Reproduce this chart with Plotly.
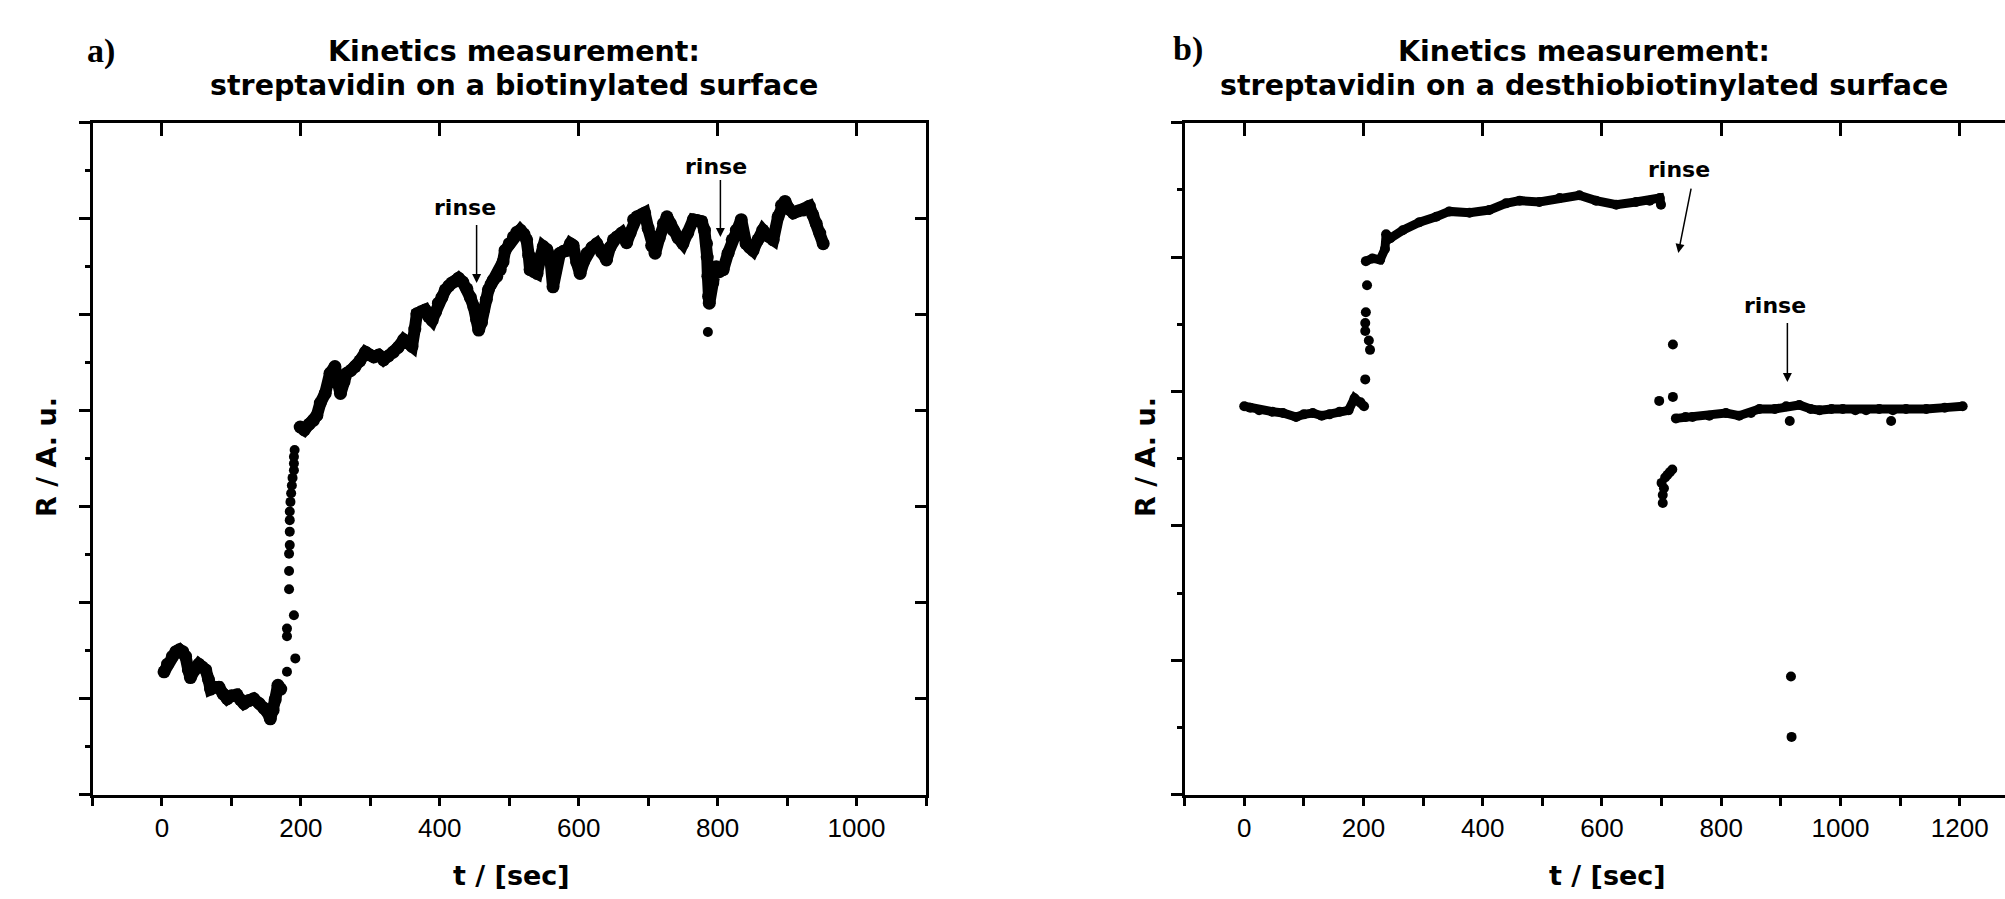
import plotly.graph_objects as go

# ---------------- data: panel a (biotinylated surface) ----------------
t_a_base = [3, 8, 15, 20, 25, 30, 34, 38, 41, 47, 53, 58, 63, 67, 70, 76, 82, 88, 94, 100,
            108, 113, 118, 125, 132, 140, 147, 152, 156, 160, 163, 167, 171]
r_a_base = [1.28, 1.36, 1.44, 1.49, 1.51, 1.49, 1.44, 1.30, 1.22, 1.30, 1.36, 1.33, 1.30, 1.20,
            1.10, 1.12, 1.12, 1.05, 1.00, 1.03, 1.04, 0.99, 0.95, 0.98, 1.00, 0.95, 0.90, 0.86,
            0.79, 0.88, 0.99, 1.14, 1.10]

t_a_rise = [180, 192, 180, 180, 190, 183, 183, 183, 184, 184, 184, 184, 185, 186, 187, 188,
            190, 190, 190, 191]
r_a_rise = [1.28, 1.42, 1.65, 1.73, 1.87, 2.14, 2.33, 2.51, 2.60, 2.74, 2.86, 2.95, 3.05, 3.14,
            3.22, 3.30, 3.38, 3.45, 3.52, 3.59]

t_a_plat = [199, 205, 212, 218, 223, 228, 235, 242, 249, 253, 257, 262, 266, 272, 278, 285, 293,
            299, 305, 312, 319, 326, 333, 340, 348, 354, 360, 364, 367, 373, 379, 384, 389, 394,
            398, 403, 408, 413, 417, 422, 427, 433, 439, 444, 449, 453, 456, 460, 463, 467, 470,
            474, 477, 482, 487, 491, 494, 500, 506, 511, 516, 521, 525, 528, 530, 535, 540, 545,
            549, 554, 559, 563, 566, 568, 573, 578, 583, 588, 592, 597, 602, 607, 612, 619, 626,
            633, 640, 645, 650, 655, 662, 669, 674, 679, 684, 690, 695, 700, 705, 710, 716, 722,
            727, 732, 736, 743, 750, 757, 765, 771, 777, 781, 784, 785, 786, 787, 788, 793, 798,
            803, 808, 815, 821, 827, 834, 841, 846, 851, 858, 865, 872, 880, 887, 892, 897, 903,
            909, 916, 923, 932, 937, 942, 947, 952]
r_a_plat = [3.83, 3.80, 3.86, 3.90, 3.95, 4.08, 4.18, 4.39, 4.46, 4.30, 4.18, 4.30, 4.39, 4.42,
            4.46, 4.52, 4.61, 4.58, 4.56, 4.58, 4.53, 4.57, 4.61, 4.66, 4.74, 4.72, 4.67, 4.85,
            5.01, 5.03, 5.05, 4.98, 4.94, 5.03, 5.12, 5.18, 5.26, 5.30, 5.33, 5.35, 5.38, 5.34,
            5.27, 5.18, 5.08, 4.95, 4.84, 4.92, 5.05, 5.16, 5.26, 5.32, 5.36, 5.40, 5.47, 5.55,
            5.67, 5.74, 5.81, 5.86, 5.88, 5.84, 5.78, 5.62, 5.47, 5.45, 5.43, 5.60, 5.71, 5.68,
            5.60, 5.29, 5.45, 5.60, 5.64, 5.66, 5.67, 5.74, 5.72, 5.55, 5.43, 5.55, 5.64, 5.70,
            5.74, 5.65, 5.57, 5.70, 5.78, 5.81, 5.85, 5.75, 5.85, 5.99, 6.02, 6.04, 6.06, 5.90,
            5.72, 5.64, 5.80, 5.95, 6.02, 5.95, 5.88, 5.80, 5.74, 5.85, 5.99, 5.98, 5.97, 5.88,
            5.74, 5.60, 5.40, 5.19, 5.12, 5.33, 5.50, 5.45, 5.47, 5.64, 5.78, 5.88, 5.99, 5.74,
            5.70, 5.67, 5.78, 5.88, 5.82, 5.78, 6.02, 6.14, 6.18, 6.10, 6.06, 6.08, 6.09, 6.13,
            6.04, 5.95, 5.85, 5.74]

t_a_out = [786]
r_a_out = [4.82]

# ---------------- data: panel b (desthiobiotinylated surface) ----------------
t_b_base = [0, 10, 25, 47, 65, 87, 100, 115, 130, 143, 160, 175, 185, 195, 201]
r_b_base = [2.89, 2.88, 2.86, 2.85, 2.84, 2.81, 2.83, 2.84, 2.82, 2.83, 2.85, 2.86, 2.95, 2.92, 2.89]

t_b_rise = [203, 211, 209, 203, 203, 204, 206]
r_b_rise = [3.09, 3.31, 3.38, 3.45, 3.51, 3.59, 3.79]

t_b_plat = [204, 215, 228, 236, 238, 245, 266, 294, 322, 344, 378, 411, 439, 462, 495, 529, 562,
            590, 624, 657, 680, 697, 699]
r_b_plat = [3.97, 3.99, 3.98, 4.06, 4.17, 4.14, 4.20, 4.26, 4.30, 4.34, 4.33, 4.35, 4.40, 4.42,
            4.41, 4.44, 4.46, 4.42, 4.39, 4.41, 4.42, 4.44, 4.39]

t_b_scatter = [696, 719, 719, 700, 704, 706, 710, 714, 718, 702, 702]
r_b_scatter = [2.93, 2.96, 3.35, 2.32, 2.28, 2.36, 2.38, 2.40, 2.42, 2.23, 2.17]

t_b_base2 = [724, 740, 752, 780, 808, 830, 850, 864, 890, 909, 931, 950, 965, 985, 1004, 1025,
             1043, 1065, 1088, 1110, 1144, 1175, 1205]
r_b_base2 = [2.80, 2.81, 2.81, 2.82, 2.84, 2.82, 2.84, 2.87, 2.87, 2.89, 2.90, 2.87, 2.86, 2.87,
             2.87, 2.86, 2.86, 2.87, 2.86, 2.87, 2.87, 2.88, 2.89]

t_b_out = [915, 1085, 917, 918]
r_b_out = [2.78, 2.78, 0.88, 0.43]

# tick labels
x_ticks_a = [0, 200, 400, 600, 800, 1000]
x_ticks_b = [0, 200, 400, 600, 800, 1000, 1200]

W, H = 2005, 899


def fx(px):
    return px / W


def fy(py):
    return 1 - py / H


TICK_FONT = dict(family="Liberation Sans, Arial", size=26, color="black")
TITLE_FONT = dict(family="DejaVu Sans", size=28.5, color="black")
AXT_FONT = dict(family="DejaVu Sans", size=27, color="black")
LABEL_FONT = dict(family="Liberation Serif, Times New Roman", size=34, color="black")
RINSE_FONT = dict(family="DejaVu Sans", size=22, color="black")

fig = go.Figure()

MS = 10


def dense(x, y, xa, ya, lw, ms):
    fig.add_trace(go.Scatter(x=x, y=y, xaxis=xa, yaxis=ya, mode="lines+markers",
                             line=dict(color="black", width=lw),
                             marker=dict(color="black", size=ms),
                             showlegend=False, hoverinfo="skip"))


def dots(x, y, xa, ya):
    fig.add_trace(go.Scatter(x=x, y=y, xaxis=xa, yaxis=ya, mode="markers",
                             marker=dict(color="black", size=MS),
                             showlegend=False, hoverinfo="skip"))


dense(t_a_base, r_a_base, "x", "y", 12, 13)
dots(t_a_rise, r_a_rise, "x", "y")
dense(t_a_plat, r_a_plat, "x", "y", 12, 13)
dots(t_a_out, r_a_out, "x", "y")

dense(t_b_base, r_b_base, "x2", "y2", 9, 10)
dots(t_b_rise, r_b_rise, "x2", "y2")
dense(t_b_plat, r_b_plat, "x2", "y2", 9, 10)
dots(t_b_scatter, r_b_scatter, "x2", "y2")
dense(t_b_base2, r_b_base2, "x2", "y2", 9, 10)
dots(t_b_out, r_b_out, "x2", "y2")

# invisible traces to register the mirror (top / right) axes
fig.add_trace(go.Scatter(x=t_a_base[:1], y=r_a_base[:1], xaxis="x3", yaxis="y3", mode="markers",
                         marker=dict(opacity=0), showlegend=False, hoverinfo="skip"))
fig.add_trace(go.Scatter(x=t_b_base[:1], y=r_b_base[:1], xaxis="x4", yaxis="y2", mode="markers",
                         marker=dict(opacity=0), showlegend=False, hoverinfo="skip"))

LINE = dict(showline=True, linewidth=3, linecolor="black", showgrid=False, zeroline=False)

xa_dom = [fx(92.5), fx(926)]
xb_dom = [fx(1184.6), 1.0]
y_dom = [fy(794.7), fy(122.7)]

fig.update_layout(
    width=W, height=H,
    margin=dict(l=0, r=0, t=0, b=0),
    paper_bgcolor="white", plot_bgcolor="white",
    xaxis=dict(**LINE, domain=xa_dom, range=[-100, 1100], anchor="y",
               tickmode="array", tickvals=x_ticks_a, ticktext=[str(v) for v in x_ticks_a],
               ticks="outside", ticklen=8, tickwidth=2.5, tickcolor="black", tickfont=TICK_FONT,
               minor=dict(tickmode="linear", tick0=-100, dtick=100, ticks="outside", ticklen=8,
                          tickwidth=2.5, tickcolor="black", showgrid=False)),
    xaxis3=dict(**LINE, overlaying="x", side="top", anchor="y3", range=[-100, 1100],
                tickmode="array", tickvals=x_ticks_a, ticks="inside", ticklen=13, tickwidth=2.5,
                tickcolor="black", showticklabels=False),
    yaxis=dict(**LINE, domain=y_dom, range=[0, 7], anchor="x", tickmode="linear", tick0=0, dtick=1,
               ticks="outside", ticklen=11, tickwidth=2.5, tickcolor="black", showticklabels=False,
               minor=dict(tickmode="linear", tick0=0.5, dtick=1, ticks="outside", ticklen=5,
                          tickwidth=2.5, tickcolor="black", showgrid=False)),
    yaxis3=dict(**LINE, overlaying="y", side="right", anchor="x3", range=[0, 7], tickmode="linear",
                tick0=0, dtick=1, ticks="inside", ticklen=11, tickwidth=2.5, tickcolor="black",
                showticklabels=False),
    xaxis2=dict(**LINE, domain=xb_dom, range=[-100, 1276], anchor="y2",
                tickmode="array", tickvals=x_ticks_b, ticktext=[str(v) for v in x_ticks_b],
                ticks="outside", ticklen=8, tickwidth=2.5, tickcolor="black", tickfont=TICK_FONT,
                minor=dict(tickmode="linear", tick0=-100, dtick=100, ticks="outside", ticklen=8,
                           tickwidth=2.5, tickcolor="black", showgrid=False)),
    xaxis4=dict(**LINE, overlaying="x2", side="top", anchor="y2", range=[-100, 1276],
                tickmode="array", tickvals=x_ticks_b, ticks="inside", ticklen=13, tickwidth=2.5,
                tickcolor="black", showticklabels=False),
    yaxis2=dict(**LINE, domain=y_dom, range=[0, 5], anchor="x2", tickmode="linear", tick0=0, dtick=1,
                ticks="outside", ticklen=11, tickwidth=2.5, tickcolor="black", showticklabels=False,
                minor=dict(tickmode="linear", tick0=0.5, dtick=1, ticks="outside", ticklen=5,
                           tickwidth=2.5, tickcolor="black", showgrid=False)),
)

ann = []
# panel letters
ann.append(dict(text="<b>a)</b>", x=fx(101), y=fy(51), xref="paper", yref="paper",
                showarrow=False, font=LABEL_FONT, xanchor="center", yanchor="middle"))
ann.append(dict(text="<b>b)</b>", x=fx(1188), y=fy(49), xref="paper", yref="paper",
                showarrow=False, font=LABEL_FONT, xanchor="center", yanchor="middle"))
# titles (two lines each)
titles = [
    (514, "Kinetics measurement:", "streptavidin on a biotinylated surface"),
    (1584, "Kinetics measurement:", "streptavidin on a desthiobiotinylated surface"),
]
for xc, l1, l2 in titles:
    ann.append(dict(text="<b>" + l1 + "</b>", x=fx(xc), y=fy(51), xref="paper", yref="paper",
                    showarrow=False, font=TITLE_FONT, xanchor="center", yanchor="middle"))
    ann.append(dict(text="<b>" + l2 + "</b>", x=fx(xc), y=fy(86), xref="paper", yref="paper",
                    showarrow=False, font=TITLE_FONT, xanchor="center", yanchor="middle"))
# axis titles
for xc in (512, 1607):
    ann.append(dict(text="<b>t / [sec]</b>", x=fx(xc), y=fy(875), xref="paper", yref="paper",
                    showarrow=False, font=AXT_FONT, xanchor="center", yanchor="middle"))
for xc in (46, 1145):
    ann.append(dict(text="<b>R / A. u.</b>", x=fx(xc), y=fy(457), xref="paper", yref="paper",
                    showarrow=False, font=AXT_FONT, xanchor="center", yanchor="middle",
                    textangle=-90))

# rinse labels and arrows
rinse = [
    # (xref, yref, text_x, text_y, tail_x, tail_y, head_x, head_y)
    ("x", "y", 436, 6.12, 453, 5.95, 453, 5.33),
    ("x", "y", 798, 6.54, 804, 6.42, 804, 5.81),
    ("x2", "y2", 730, 4.65, 750, 4.52, 728, 4.03),
    ("x2", "y2", 890, 3.64, 911, 3.52, 911, 3.07),
]
for xr, yr, tx, ty, ax_, ay_, hx, hy in rinse:
    ann.append(dict(text="<b>rinse</b>", x=tx, y=ty, xref=xr, yref=yr, showarrow=False,
                    font=RINSE_FONT, xanchor="center", yanchor="middle"))
    ann.append(dict(text="", x=hx, y=hy, xref=xr, yref=yr, ax=ax_, ay=ay_, axref=xr, ayref=yr,
                    showarrow=True, arrowhead=2, arrowsize=1.2, arrowwidth=1.5,
                    arrowcolor="black"))

fig.update_layout(annotations=ann)

fig.write_html("out.html", config={"displayModeBar": False},
               post_script="document.body.style.margin='0';document.body.style.overflow='hidden';")
